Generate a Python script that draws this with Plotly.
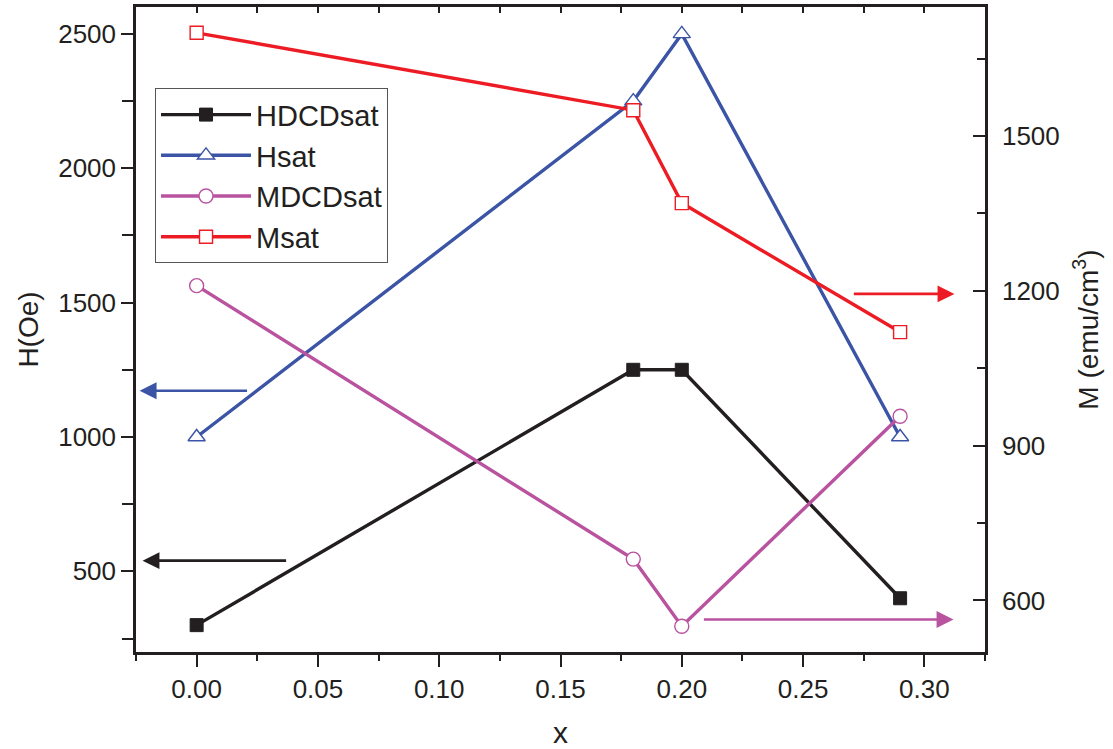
import plotly.graph_objects as go

# ---- data ----
x_vals = [0.00, 0.18, 0.20, 0.29]
hdcdsat = [300, 1250, 1250, 400]      # H (Oe), left axis
hsat = [1000, 2250, 2500, 1000]       # H (Oe), left axis
mdcdsat = [1210, 680, 550, 957]       # M (emu/cm3), right axis
msat = [1700, 1550, 1370, 1120]       # M (emu/cm3), right axis

x_ticks = [0.00, 0.05, 0.10, 0.15, 0.20, 0.25, 0.30]
x_ticklabels = ["0.00", "0.05", "0.10", "0.15", "0.20", "0.25", "0.30"]

BLACK = "#231f20"
BLUE = "#3b54a5"
MAGENTA = "#b9529f"
RED = "#ed1c24"
FONT = "Liberation Sans, Arial, sans-serif"
LW = 3.4

fig = go.Figure()

fig.add_trace(go.Scatter(
    x=x_vals, y=hdcdsat, name="HDCDsat", mode="lines+markers",
    line=dict(color=BLACK, width=LW),
    marker=dict(symbol="square", size=13, color=BLACK, line=dict(color=BLACK, width=1)),
    yaxis="y"))
fig.add_trace(go.Scatter(
    x=x_vals, y=hsat, name="Hsat", mode="lines+markers",
    line=dict(color=BLUE, width=LW),
    marker=dict(symbol="triangle-up", size=15, color="white", line=dict(color=BLUE, width=1.4)),
    yaxis="y"))
fig.add_trace(go.Scatter(
    x=x_vals, y=mdcdsat, name="MDCDsat", mode="lines+markers",
    line=dict(color=MAGENTA, width=LW),
    marker=dict(symbol="circle", size=14, color="white", line=dict(color=MAGENTA, width=1.4)),
    yaxis="y2"))
fig.add_trace(go.Scatter(
    x=x_vals, y=msat, name="Msat", mode="lines+markers",
    line=dict(color=RED, width=LW),
    marker=dict(symbol="square", size=13, color="white", line=dict(color=RED, width=1.4)),
    yaxis="y2"))
# invisible trace to carry the top (mirrored) x axis
fig.add_trace(go.Scatter(
    x=x_vals, y=hdcdsat, mode="markers", marker=dict(opacity=0),
    showlegend=False, hoverinfo="skip", xaxis="x2", yaxis="y"))

axis_common = dict(
    showline=True, linecolor=BLACK, linewidth=2.5, showgrid=False, zeroline=False,
    automargin=False,
    tickcolor=BLACK, tickwidth=2, tickfont=dict(family=FONT, size=26, color=BLACK),
)

fig.update_layout(
    width=1113, height=749,
    margin=dict(l=136, r=128, t=7, b=97, autoexpand=False),
    paper_bgcolor="white", plot_bgcolor="white",
    font=dict(family=FONT, color=BLACK),
    showlegend=True,
    legend=dict(
        x=0.0224, y=0.874, xanchor="left", yanchor="top",
        bgcolor="white", bordercolor="#555555", borderwidth=1,
        font=dict(family=FONT, size=29, color=BLACK),
        traceorder="normal", itemwidth=90,
    ),
    xaxis=dict(
        **axis_common,
        range=[-0.025, 0.325], tickvals=x_ticks, ticktext=x_ticklabels,
        ticks="outside", ticklen=12,
        minor=dict(dtick=0.025, tick0=0, ticks="outside", ticklen=6, tickwidth=2, tickcolor=BLACK),
        title=dict(text="x", font=dict(family=FONT, size=30, color=BLACK), standoff=20),
    ),
    xaxis2=dict(
        overlaying="x", side="top", anchor="y", matches="x", automargin=False,
        range=[-0.025, 0.325], showline=True, linecolor=BLACK, linewidth=2.5,
        showgrid=False, zeroline=False, showticklabels=False,
        tickvals=[-0.025 + 0.025 * i for i in range(15)],
        ticks="inside", ticklen=6, tickwidth=2, tickcolor=BLACK,
    ),
    yaxis=dict(
        **axis_common,
        range=[200, 2600], dtick=500, tick0=0,
        ticks="outside", ticklen=12,
        minor=dict(dtick=250, tick0=0, ticks="outside", ticklen=11, tickwidth=2, tickcolor=BLACK),
        title=dict(text="H(Oe)", font=dict(family=FONT, size=28, color=BLACK), standoff=12),
    ),
    yaxis2=dict(
        **axis_common,
        overlaying="y", side="right", anchor="x",
        range=[500, 1750], dtick=300, tick0=0,
        ticks="inside", ticklen=12, ticklabelstandoff=9,
        minor=dict(dtick=150, tick0=0, ticks="inside", ticklen=8, tickwidth=2, tickcolor=BLACK),
        title=dict(text="M (emu/cm<sup>3</sup>)", font=dict(family=FONT, size=28, color=BLACK), standoff=20),
    ),
)

arrow_common = dict(text="", showarrow=True, arrowhead=2, arrowsize=1.3, arrowwidth=2.6,
                    standoff=0, startstandoff=0)
# blue arrow -> left axis (Hsat)
fig.add_annotation(x=-0.0235, y=1172, ax=0.0214, ay=1172, xref="x", yref="y",
                   axref="x", ayref="y", arrowcolor=BLUE, **arrow_common)
# black arrow -> left axis (HDCDsat)
fig.add_annotation(x=-0.0223, y=540, ax=0.0375, ay=540, xref="x", yref="y",
                   axref="x", ayref="y", arrowcolor=BLACK, **arrow_common)
# red arrow -> right axis (Msat)
fig.add_annotation(x=0.3124, y=1194, ax=0.2703, ay=1194, xref="x", yref="y2",
                   axref="x", ayref="y2", arrowcolor=RED, **arrow_common)
# magenta arrow -> right axis (MDCDsat)
fig.add_annotation(x=0.312, y=563, ax=0.2085, ay=563, xref="x", yref="y2",
                   axref="x", ayref="y2", arrowcolor=MAGENTA, **arrow_common)

fig.write_html("out.html")
